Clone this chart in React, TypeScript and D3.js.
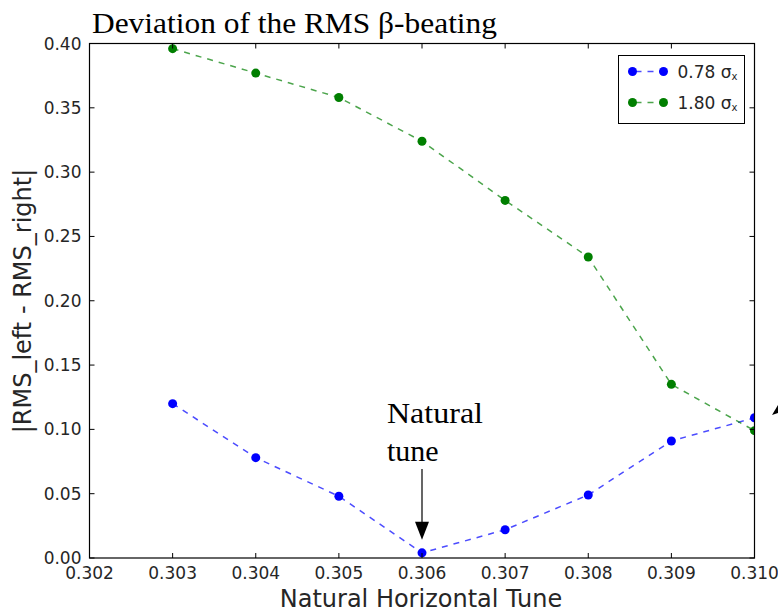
import React from "react";
import * as d3 from "d3";

// Tune values scanned and the RMS beta-beating deviation for each beam size
const tunes = [0.303, 0.304, 0.305, 0.306, 0.307, 0.308, 0.309, 0.31];
const dev078 = [0.12, 0.078, 0.048, 0.004, 0.022, 0.049, 0.091, 0.109];
const dev180 = [0.396, 0.377, 0.358, 0.324, 0.278, 0.234, 0.135, 0.099];
const seriesValues = ["0.78", "1.80"];
const seriesColors = ["#0000ff", "#007f00"];
const xTicks = [0.302, 0.303, 0.304, 0.305, 0.306, 0.307, 0.308, 0.309, 0.31];
const yTicks = [0, 0.05, 0.1, 0.15, 0.2, 0.25, 0.3, 0.35, 0.4];
const annotationTune = 0.306;

const W = 778;
const H = 611;
const left = 89.5;
const right = 754.5;
const top = 43.5;
const bottom = 558;

export default function App() {
  const x = d3.scaleLinear().domain([0.302, 0.31]).range([left, right]);
  const y = d3.scaleLinear().domain([0, 0.4]).range([bottom, top]);
  const line = d3
    .line<[number, number]>()
    .x((d) => x(d[0]))
    .y((d) => y(d[1]));

  const series = [dev078, dev180].map((vals) =>
    tunes.map((t, i) => [t, vals[i]] as [number, number])
  );

  const tickColor = "#000";
  const labelColor = "#262626";
  const sans = "DejaVu Sans, sans-serif";
  const serif = "Liberation Serif, serif";

  const lgX = 618.5;
  const lgY = 55.5;
  const lgW = 126;
  const lgH = 68;

  const annY = y(0.004);

  return (
    <svg
      width={W}
      height={H}
      style={{ position: "absolute", left: 0, top: 0, background: "#fff" }}
    >
      <defs>
        <clipPath id="plotClip">
          <rect x={left} y={top} width={right - left} height={bottom - top} />
        </clipPath>
      </defs>
      <rect width={W} height={H} fill="#fff" />

      {/* title */}
      <text
        x={92}
        y={33}
        fontFamily={serif}
        fontSize={30}
        fill="#000"
        textLength={405}
        lengthAdjust="spacingAndGlyphs"
      >
        Deviation of the RMS β-beating
      </text>

      {/* data */}
      <g clipPath="url(#plotClip)">
        {series.map((s, k) => (
          <g key={k}>
            <path
              d={line(s) || ""}
              fill="none"
              stroke={seriesColors[k]}
              strokeOpacity={0.7}
              strokeWidth={1.5}
              strokeDasharray="6,6"
            />
            {s.map((d, i) => (
              <circle
                key={i}
                cx={x(d[0])}
                cy={y(d[1])}
                r={4.5}
                fill={seriesColors[k]}
              />
            ))}
          </g>
        ))}
      </g>

      {/* ticks on all four sides, pointing inward */}
      {xTicks.map((t) => (
        <g key={"x" + t}>
          <line x1={x(t)} x2={x(t)} y1={bottom} y2={bottom - 5} stroke={tickColor} />
          <line x1={x(t)} x2={x(t)} y1={top} y2={top + 5} stroke={tickColor} />
          <text
            x={x(t)}
            y={bottom + 21}
            textAnchor="middle"
            fontFamily={sans}
            fontSize={17}
            fill={labelColor}
          >
            {d3.format(".3f")(t)}
          </text>
        </g>
      ))}
      {yTicks.map((t) => (
        <g key={"y" + t}>
          <line x1={left} x2={left + 5} y1={y(t)} y2={y(t)} stroke={tickColor} />
          <line x1={right} x2={right - 5} y1={y(t)} y2={y(t)} stroke={tickColor} />
          <text
            x={left - 8}
            y={y(t) + 6}
            textAnchor="end"
            fontFamily={sans}
            fontSize={17}
            fill={labelColor}
          >
            {d3.format(".2f")(t)}
          </text>
        </g>
      ))}

      {/* frame */}
      <rect
        x={left}
        y={top}
        width={right - left}
        height={bottom - top}
        fill="none"
        stroke="#000"
        strokeWidth={1.2}
      />

      {/* axis labels */}
      <text
        x={421}
        y={607}
        textAnchor="middle"
        fontFamily={sans}
        fontSize={24}
        fill={labelColor}
      >
        Natural Horizontal Tune
      </text>
      <text
        transform={`translate(31, 301) rotate(-90)`}
        textAnchor="middle"
        fontFamily={sans}
        fontSize={24}
        fill={labelColor}
      >
        |RMS_left - RMS_right|
      </text>

      {/* legend */}
      <rect x={lgX} y={lgY} width={lgW} height={lgH} fill="#fff" stroke="#000" strokeWidth={1} />
      {seriesValues.map((v, k) => {
        const ly = lgY + 16 + k * 31;
        return (
          <g key={v}>
            <line
              x1={lgX + 14}
              x2={lgX + 45}
              y1={ly}
              y2={ly}
              stroke={seriesColors[k]}
              strokeOpacity={0.7}
              strokeWidth={1.5}
              strokeDasharray="6,6"
              strokeDashoffset={-3}
            />
            <circle cx={lgX + 14} cy={ly} r={4.5} fill={seriesColors[k]} />
            <circle cx={lgX + 45} cy={ly} r={4.5} fill={seriesColors[k]} />
            <text x={lgX + 59} y={ly + 6} fontFamily={sans} fontSize={17} fill={labelColor}>
              {v + " σ"}
              <tspan fontSize={10} dy={2}>x</tspan>
            </text>
          </g>
        );
      })}

      {/* annotation for the natural tune */}
      <text fontFamily={serif} fontSize={30} fill="#000">
        <tspan x={387} y={423} textLength={96} lengthAdjust="spacingAndGlyphs">Natural</tspan>
        <tspan x={387} y={461}>tune</tspan>
      </text>
      <line
        x1={x(annotationTune)}
        x2={x(annotationTune)}
        y1={469}
        y2={annY - 30}
        stroke="#000"
        strokeWidth={1.2}
      />
      <path
        d={`M${x(annotationTune) - 7},${annY - 31} L${x(annotationTune) + 7},${annY - 31} L${x(annotationTune)},${annY - 13} Z`}
        fill="#000"
      />
      {/* arrow tip entering from the right edge */}
      <path d={`M${W - 6},${415} L${W},${405} L${W},${413} Z`} fill="#000" />
    </svg>
  );
}
